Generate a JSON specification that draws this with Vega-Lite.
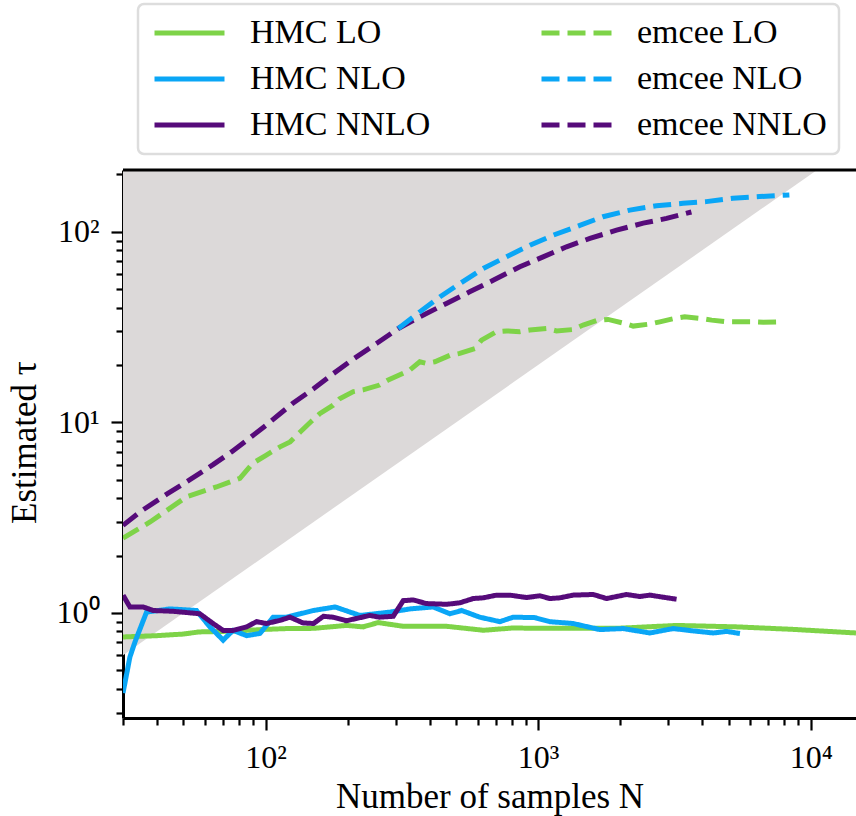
{
  "$schema": "https://vega.github.io/schema/vega-lite/v6.json",
  "autosize": "none",
  "padding": {"left": 123, "top": 170, "right": 0, "bottom": 98},
  "width": 733,
  "height": 548,
  "background": "white",
  "config": {
    "view": {"stroke": null},
    "font": "Liberation Serif",
    "axis": {
      "grid": false,
      "domainColor": "black",
      "domainWidth": 3,
      "tickColor": "black",
      "tickWidth": 2.2,
      "labelColor": "black",
      "labelFont": "Liberation Serif",
      "labelFontSize": 32,
      "titleFont": "Liberation Serif",
      "titleFontSize": 35,
      "titleFontWeight": "normal",
      "titleColor": "black",
      "labelOverlap": false,
      "labelBound": false,
      "labelFlush": false
    }
  },
  "datasets": {
    "band": [
      {"N": 30, "tau": 0.6, "tau_top": 211},
      {"N": 10550, "tau": 211, "tau_top": 211}
    ],
    "curves": [
      {"series": "HMC LO", "N": 30, "tau": 0.748},
      {"series": "HMC LO", "N": 40, "tau": 0.76},
      {"series": "HMC LO", "N": 50, "tau": 0.775},
      {"series": "HMC LO", "N": 57, "tau": 0.795},
      {"series": "HMC LO", "N": 70, "tau": 0.8},
      {"series": "HMC LO", "N": 85, "tau": 0.81},
      {"series": "HMC LO", "N": 100, "tau": 0.82},
      {"series": "HMC LO", "N": 120, "tau": 0.828},
      {"series": "HMC LO", "N": 150, "tau": 0.83},
      {"series": "HMC LO", "N": 198, "tau": 0.86},
      {"series": "HMC LO", "N": 228, "tau": 0.845},
      {"series": "HMC LO", "N": 259, "tau": 0.89},
      {"series": "HMC LO", "N": 320, "tau": 0.851},
      {"series": "HMC LO", "N": 461, "tau": 0.851},
      {"series": "HMC LO", "N": 630, "tau": 0.811},
      {"series": "HMC LO", "N": 810, "tau": 0.834},
      {"series": "HMC LO", "N": 1000, "tau": 0.83},
      {"series": "HMC LO", "N": 1420, "tau": 0.83},
      {"series": "HMC LO", "N": 2000, "tau": 0.832},
      {"series": "HMC LO", "N": 3230, "tau": 0.86},
      {"series": "HMC LO", "N": 5360, "tau": 0.845},
      {"series": "HMC LO", "N": 8590, "tau": 0.82},
      {"series": "HMC LO", "N": 14660, "tau": 0.785},

      {"series": "HMC NLO", "N": 30, "tau": 0.38},
      {"series": "HMC NLO", "N": 31.8, "tau": 0.587},
      {"series": "HMC NLO", "N": 33.2, "tau": 0.705},
      {"series": "HMC NLO", "N": 36.6, "tau": 1.01},
      {"series": "HMC NLO", "N": 44.6, "tau": 1.05},
      {"series": "HMC NLO", "N": 55.8, "tau": 1.03},
      {"series": "HMC NLO", "N": 62.5, "tau": 0.845},
      {"series": "HMC NLO", "N": 69.9, "tau": 0.72},
      {"series": "HMC NLO", "N": 76, "tau": 0.81},
      {"series": "HMC NLO", "N": 85.2, "tau": 0.76},
      {"series": "HMC NLO", "N": 95.3, "tau": 0.78},
      {"series": "HMC NLO", "N": 100.8, "tau": 0.86},
      {"series": "HMC NLO", "N": 106.7, "tau": 0.95},
      {"series": "HMC NLO", "N": 119, "tau": 0.95},
      {"series": "HMC NLO", "N": 134, "tau": 0.99},
      {"series": "HMC NLO", "N": 150, "tau": 1.03},
      {"series": "HMC NLO", "N": 180, "tau": 1.075},
      {"series": "HMC NLO", "N": 222, "tau": 0.97},
      {"series": "HMC NLO", "N": 286, "tau": 1.01},
      {"series": "HMC NLO", "N": 339, "tau": 1.05},
      {"series": "HMC NLO", "N": 412, "tau": 1.075},
      {"series": "HMC NLO", "N": 475, "tau": 0.99},
      {"series": "HMC NLO", "N": 524, "tau": 1.03},
      {"series": "HMC NLO", "N": 611, "tau": 0.95},
      {"series": "HMC NLO", "N": 724, "tau": 0.9},
      {"series": "HMC NLO", "N": 810, "tau": 0.95},
      {"series": "HMC NLO", "N": 972, "tau": 0.945},
      {"series": "HMC NLO", "N": 1104, "tau": 0.9},
      {"series": "HMC NLO", "N": 1343, "tau": 0.88},
      {"series": "HMC NLO", "N": 1683, "tau": 0.818},
      {"series": "HMC NLO", "N": 2050, "tau": 0.828},
      {"series": "HMC NLO", "N": 2570, "tau": 0.785},
      {"series": "HMC NLO", "N": 3130, "tau": 0.828},
      {"series": "HMC NLO", "N": 3700, "tau": 0.805},
      {"series": "HMC NLO", "N": 4390, "tau": 0.785},
      {"series": "HMC NLO", "N": 4910, "tau": 0.8},
      {"series": "HMC NLO", "N": 5500, "tau": 0.78},

      {"series": "HMC NNLO", "N": 30, "tau": 1.24},
      {"series": "HMC NNLO", "N": 31.8, "tau": 1.075},
      {"series": "HMC NNLO", "N": 35.6, "tau": 1.075},
      {"series": "HMC NNLO", "N": 38.7, "tau": 1.03},
      {"series": "HMC NNLO", "N": 45.8, "tau": 1.02},
      {"series": "HMC NNLO", "N": 57.4, "tau": 0.99},
      {"series": "HMC NNLO", "N": 64.2, "tau": 0.88},
      {"series": "HMC NNLO", "N": 69.9, "tau": 0.81},
      {"series": "HMC NNLO", "N": 76, "tau": 0.81},
      {"series": "HMC NNLO", "N": 85.2, "tau": 0.845},
      {"series": "HMC NNLO", "N": 92.7, "tau": 0.9},
      {"series": "HMC NNLO", "N": 100.8, "tau": 0.88},
      {"series": "HMC NNLO", "N": 113, "tau": 0.914},
      {"series": "HMC NNLO", "N": 123, "tau": 0.95},
      {"series": "HMC NNLO", "N": 137, "tau": 0.887},
      {"series": "HMC NNLO", "N": 150, "tau": 0.88},
      {"series": "HMC NNLO", "N": 163, "tau": 0.96},
      {"series": "HMC NNLO", "N": 177, "tau": 0.95},
      {"series": "HMC NNLO", "N": 198, "tau": 0.91},
      {"series": "HMC NNLO", "N": 241, "tau": 0.97},
      {"series": "HMC NNLO", "N": 262, "tau": 0.95},
      {"series": "HMC NNLO", "N": 294, "tau": 0.96},
      {"series": "HMC NNLO", "N": 320, "tau": 1.16},
      {"series": "HMC NNLO", "N": 348, "tau": 1.17},
      {"series": "HMC NNLO", "N": 389, "tau": 1.12},
      {"series": "HMC NNLO", "N": 461, "tau": 1.11},
      {"series": "HMC NNLO", "N": 516, "tau": 1.13},
      {"series": "HMC NNLO", "N": 578, "tau": 1.19},
      {"series": "HMC NNLO", "N": 628, "tau": 1.2},
      {"series": "HMC NNLO", "N": 703, "tau": 1.24},
      {"series": "HMC NNLO", "N": 787, "tau": 1.24},
      {"series": "HMC NNLO", "N": 906, "tau": 1.205},
      {"series": "HMC NNLO", "N": 1014, "tau": 1.23},
      {"series": "HMC NNLO", "N": 1104, "tau": 1.19},
      {"series": "HMC NNLO", "N": 1200, "tau": 1.2},
      {"series": "HMC NNLO", "N": 1343, "tau": 1.24},
      {"series": "HMC NNLO", "N": 1592, "tau": 1.25},
      {"series": "HMC NNLO", "N": 1782, "tau": 1.19},
      {"series": "HMC NNLO", "N": 2110, "tau": 1.25},
      {"series": "HMC NNLO", "N": 2360, "tau": 1.22},
      {"series": "HMC NNLO", "N": 2570, "tau": 1.24},
      {"series": "HMC NNLO", "N": 3220, "tau": 1.18},

      {"series": "emcee LO", "N": 30, "tau": 2.47},
      {"series": "emcee LO", "N": 37.7, "tau": 3.0},
      {"series": "emcee LO", "N": 51.3, "tau": 4.07},
      {"series": "emcee LO", "N": 66, "tau": 4.58},
      {"series": "emcee LO", "N": 80.5, "tau": 5.09},
      {"series": "emcee LO", "N": 89.8, "tau": 6.1},
      {"series": "emcee LO", "N": 100, "tau": 6.7},
      {"series": "emcee LO", "N": 113, "tau": 7.44},
      {"series": "emcee LO", "N": 123, "tau": 7.9},
      {"series": "emcee LO", "N": 134, "tau": 8.9},
      {"series": "emcee LO", "N": 147, "tau": 10.1},
      {"series": "emcee LO", "N": 158, "tau": 11.1},
      {"series": "emcee LO", "N": 177, "tau": 12.3},
      {"series": "emcee LO", "N": 187, "tau": 13.3},
      {"series": "emcee LO", "N": 210, "tau": 14.5},
      {"series": "emcee LO", "N": 228, "tau": 14.8},
      {"series": "emcee LO", "N": 262, "tau": 15.7},
      {"series": "emcee LO", "N": 282, "tau": 16.7},
      {"series": "emcee LO", "N": 320, "tau": 18.1},
      {"series": "emcee LO", "N": 338, "tau": 18.8},
      {"series": "emcee LO", "N": 368, "tau": 20.8},
      {"series": "emcee LO", "N": 389, "tau": 20.4},
      {"series": "emcee LO", "N": 418, "tau": 20.8},
      {"series": "emcee LO", "N": 475, "tau": 22.5},
      {"series": "emcee LO", "N": 516, "tau": 23},
      {"series": "emcee LO", "N": 586, "tau": 24.4},
      {"series": "emcee LO", "N": 620, "tau": 27},
      {"series": "emcee LO", "N": 703, "tau": 29.9},
      {"series": "emcee LO", "N": 766, "tau": 30.2},
      {"series": "emcee LO", "N": 857, "tau": 29.9},
      {"series": "emcee LO", "N": 933, "tau": 30.5},
      {"series": "emcee LO", "N": 1074, "tau": 31.1},
      {"series": "emcee LO", "N": 1168, "tau": 30.2},
      {"series": "emcee LO", "N": 1343, "tau": 30.7},
      {"series": "emcee LO", "N": 1462, "tau": 32.4},
      {"series": "emcee LO", "N": 1660, "tau": 34.4},
      {"series": "emcee LO", "N": 1806, "tau": 34.7},
      {"series": "emcee LO", "N": 2080, "tau": 33},
      {"series": "emcee LO", "N": 2233, "tau": 32},
      {"series": "emcee LO", "N": 2570, "tau": 32.8},
      {"series": "emcee LO", "N": 2795, "tau": 33.7},
      {"series": "emcee LO", "N": 3170, "tau": 35.1},
      {"series": "emcee LO", "N": 3450, "tau": 35.8},
      {"series": "emcee LO", "N": 3970, "tau": 35.1},
      {"series": "emcee LO", "N": 4330, "tau": 34.4},
      {"series": "emcee LO", "N": 4910, "tau": 33.7},
      {"series": "emcee LO", "N": 5345, "tau": 33.7},
      {"series": "emcee LO", "N": 6150, "tau": 33.7},
      {"series": "emcee LO", "N": 6700, "tau": 33.5},
      {"series": "emcee LO", "N": 7710, "tau": 33.7},

      {"series": "emcee NNLO", "N": 30, "tau": 2.88},
      {"series": "emcee NNLO", "N": 34.7, "tau": 3.4},
      {"series": "emcee NNLO", "N": 43.4, "tau": 4.2},
      {"series": "emcee NNLO", "N": 52.8, "tau": 5.0},
      {"series": "emcee NNLO", "N": 64.2, "tau": 6.0},
      {"series": "emcee NNLO", "N": 75, "tau": 7.0},
      {"series": "emcee NNLO", "N": 87.7, "tau": 8.3},
      {"series": "emcee NNLO", "N": 100, "tau": 9.6},
      {"series": "emcee NNLO", "N": 113, "tau": 11.1},
      {"series": "emcee NNLO", "N": 126, "tau": 12.6},
      {"series": "emcee NNLO", "N": 150, "tau": 15.0},
      {"series": "emcee NNLO", "N": 177, "tau": 18.0},
      {"series": "emcee NNLO", "N": 210, "tau": 21.5},
      {"series": "emcee NNLO", "N": 256, "tau": 26.0},
      {"series": "emcee NNLO", "N": 307, "tau": 31.1},
      {"series": "emcee NNLO", "N": 368, "tau": 35.8},
      {"series": "emcee NNLO", "N": 461, "tau": 42.1},
      {"series": "emcee NNLO", "N": 561, "tau": 48.4},
      {"series": "emcee NNLO", "N": 684, "tau": 55.7},
      {"series": "emcee NNLO", "N": 857, "tau": 65.5},
      {"series": "emcee NNLO", "N": 1043, "tau": 73.9},
      {"series": "emcee NNLO", "N": 1271, "tau": 83.4},
      {"series": "emcee NNLO", "N": 1549, "tau": 92.3},
      {"series": "emcee NNLO", "N": 1940, "tau": 102},
      {"series": "emcee NNLO", "N": 2430, "tau": 111},
      {"series": "emcee NNLO", "N": 2960, "tau": 117.6},
      {"series": "emcee NNLO", "N": 3650, "tau": 127},

      {"series": "emcee NLO", "N": 307, "tau": 31.1},
      {"series": "emcee NLO", "N": 368, "tau": 38},
      {"series": "emcee NLO", "N": 437, "tau": 45.6},
      {"series": "emcee NLO", "N": 517, "tau": 53.6},
      {"series": "emcee NLO", "N": 629, "tau": 64.2},
      {"series": "emcee NLO", "N": 766, "tau": 74},
      {"series": "emcee NLO", "N": 933, "tau": 85},
      {"series": "emcee NLO", "N": 1136, "tau": 96},
      {"series": "emcee NLO", "N": 1422, "tau": 108},
      {"series": "emcee NLO", "N": 1730, "tau": 120},
      {"series": "emcee NLO", "N": 2170, "tau": 130},
      {"series": "emcee NLO", "N": 2717, "tau": 137},
      {"series": "emcee NLO", "N": 3400, "tau": 141},
      {"series": "emcee NLO", "N": 4140, "tau": 144},
      {"series": "emcee NLO", "N": 5180, "tau": 150},
      {"series": "emcee NLO", "N": 6490, "tau": 153},
      {"series": "emcee NLO", "N": 8350, "tau": 156}
    ]
  },
  "layer": [
    {
      "data": {"name": "band"},
      "mark": {"type": "area", "color": "#dcd9d9", "clip": true},
      "encoding": {
        "x": {
          "field": "N",
          "type": "quantitative",
          "title": "Number of samples N",
          "scale": {"type": "log", "domain": [30, 14660], "nice": false},
          "axis": {
            "values": [30, 40, 50, 60, 70, 80, 90, 100, 200, 300, 400, 500, 600, 700, 800, 900, 1000, 2000, 3000, 4000, 5000, 6000, 7000, 8000, 9000, 10000],
            "labelExpr": "datum.value == 100 ? '10²' : datum.value == 1000 ? '10³' : datum.value == 10000 ? '10⁴' : ''",
            "tickSize": {"condition": {"test": "datum.value == 100 || datum.value == 1000 || datum.value == 10000", "value": 12}, "value": 7},
            "labelBaseline": "alphabetic",
            "labelPadding": 37,
            "titleBaseline": "alphabetic",
            "titleY": 89
          }
        },
        "y": {
          "field": "tau",
          "type": "quantitative",
          "title": "Estimated τ",
          "scale": {"type": "log", "domain": [0.281, 211], "nice": false},
          "axis": {
            "values": [0.3, 0.4, 0.5, 0.6, 0.7, 0.8, 0.9, 1, 2, 3, 4, 5, 6, 7, 8, 9, 10, 20, 30, 40, 50, 60, 70, 80, 90, 100, 200],
            "labelExpr": "datum.value == 1 ? '10⁰' : datum.value == 10 ? '10¹' : datum.value == 100 ? '10²' : ''",
            "tickSize": {"condition": {"test": "datum.value == 1 || datum.value == 10 || datum.value == 100", "value": 12}, "value": 7},
            "labelPadding": 12,
            "labelBaseline": "middle",
            "titleBaseline": "alphabetic",
            "titleAngle": 270,
            "titleAlign": "center",
            "titleX": -88,
            "titleY": 272
          }
        },
        "y2": {"field": "tau_top"}
      }
    },
    {
      "data": {"name": "curves"},
      "mark": {"type": "line", "strokeWidth": 5, "clip": true},
      "encoding": {
        "x": {"field": "N", "type": "quantitative", "title": "Number of samples N"},
        "y": {"field": "tau", "type": "quantitative", "title": "Estimated τ"},
        "color": {
          "field": "series",
          "type": "nominal",
          "scale": {
            "domain": ["HMC LO", "HMC NLO", "HMC NNLO", "emcee LO", "emcee NLO", "emcee NNLO"],
            "range": ["#7ed348", "#0aa6f6", "#560b7a", "#7ed348", "#0aa6f6", "#560b7a"]
          },
          "legend": {
            "title": null,
            "orient": "none",
            "legendX": 15,
            "legendY": -166,
            "columns": 2,
            "padding": 12,
            "strokeColor": "#dddddd",
            "cornerRadius": 6,
            "fillColor": "white",
            "symbolType": "M-1.25,0H5.75",
            "symbolSize": 400,
            "symbolStrokeWidth": 5,
            "labelFont": "Liberation Serif",
            "labelFontSize": 34,
            "labelColor": "black",
            "labelOffset": 66,
            "labelLimit": 400,
            "rowPadding": 12,
            "columnPadding": 100,
            "encode": {"legend": {"update": {"strokeWidth": {"value": 2.5}}}}
          }
        },
        "strokeDash": {
          "field": "series",
          "type": "nominal",
          "scale": {
            "domain": ["HMC LO", "HMC NLO", "HMC NNLO", "emcee LO", "emcee NLO", "emcee NNLO"],
            "range": [[1, 0], [1, 0], [1, 0], [18, 8], [18, 8], [18, 8]]
          },
          "legend": {
            "title": null,
            "orient": "none",
            "legendX": 15,
            "legendY": -166,
            "columns": 2,
            "padding": 12,
            "strokeColor": "#dddddd",
            "cornerRadius": 6,
            "fillColor": "white",
            "symbolType": "M-1.25,0H5.75",
            "symbolSize": 400,
            "symbolStrokeWidth": 5,
            "labelFont": "Liberation Serif",
            "labelFontSize": 34,
            "labelColor": "black",
            "labelOffset": 66,
            "labelLimit": 400,
            "rowPadding": 12,
            "columnPadding": 100,
            "encode": {"legend": {"update": {"strokeWidth": {"value": 2.5}}}}
          }
        }
      }
    },
    {
      "data": {"values": [{"edge": "top"}]},
      "mark": {"type": "rule", "color": "black", "strokeWidth": 3},
      "encoding": {
        "y": {"datum": 211, "type": "quantitative", "title": "Estimated τ"}
      }
    }
  ]
}
